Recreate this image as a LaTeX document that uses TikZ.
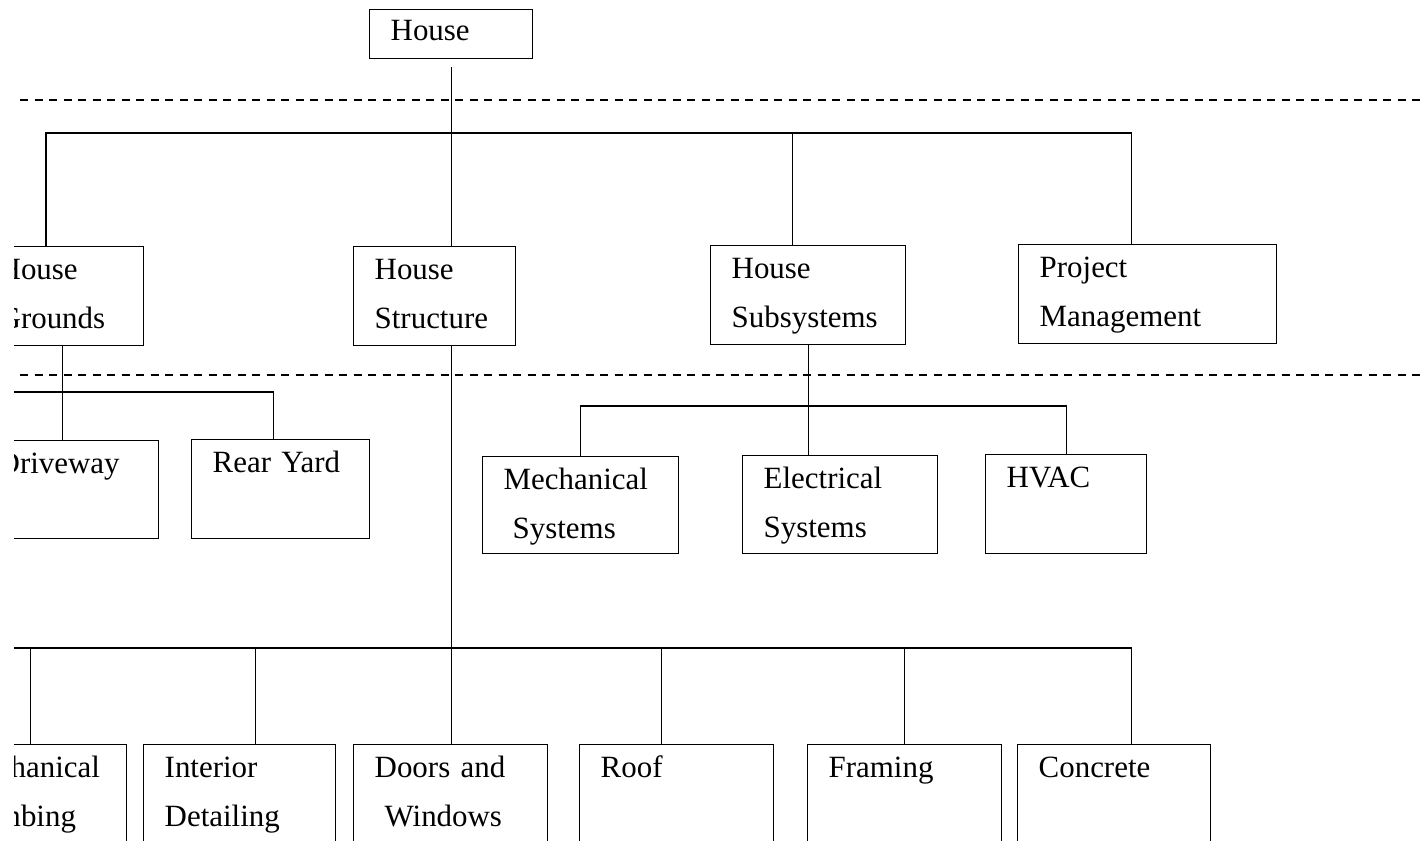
\documentclass[tikz,border=0pt]{standalone}
\usepackage{fontspec}
\setmainfont{Liberation Serif}

\newlength\px
\setlength\px{0.02cm}

\tikzset{
    box/.style 2 args={draw, rectangle, anchor=north west, align=left,
        inner xsep=21\px, inner ysep=0pt, text height=33\px,
        text width=#1\px, text depth=#2\px},
    sep/.style={dashed, dash pattern=on 8\px off 6.5\px},
}

\begin{document}
\begin{tikzpicture}[x=0.02cm, y=-0.02cm, line width=0.8pt,
        font=\fontsize{17.6}{27.5}\selectfont]
        \useasboundingbox (0,0) rectangle (1420,841);
        \clip (14,0) rectangle (1420,841);

        % Define nodes
        \node (house) [box={121}{18}, text height=31\px] at (369,9) {House};

        \node (grounds) [box={124}{66}] at (-23,246) {House\\Grounds};
        \node (structure) [box={120}{66}] at (353,246) {House\\Structure};
        \node (subsystems) [box={153}{66}] at (710,245) {House\\Subsystems};
        \node (project) [box={216}{66}] at (1018,244) {Project\\Management};

        \node (driveway) [box={140}{65}] at (-24,440) {Driveway};
        \node (rearyard) [box={136}{66}] at (191,439) {Rear Yard};

        \node (mechsys) [box={154}{64}] at (482,456) {Mechanical\\\hspace*{9\px}Systems};
        \node (elecsys) [box={153}{65}] at (742,455) {Electrical\\Systems};
        \node (hvac) [box={119}{66}] at (985,454) {HVAC};

        \node (mechplumb) [box={150}{67}] at (-66,744) {Mechanical\\Plumbing};
        \node (interior) [box={150}{67}] at (143,744) {Interior\\Detailing};
        \node (doors) [box={152}{67}] at (353,744) {Doors and\\\hspace*{10\px}Windows};
        \node (roof) [box={152}{67}] at (579,744) {Roof};
        \node (framing) [box={152}{67}] at (807,744) {Framing};
        \node (concrete) [box={151}{67}] at (1017,744) {Concrete};

        % Level separators
        \draw[sep] (20,100) -- (1420,100);
        \draw[sep] (20,375) -- (1420,375);

        % Bars the children hang from
        \coordinate (b-top) at (46,133);
        \coordinate (b-grounds) at (0,392);
        \coordinate (b-subsys) at (808,406);
        \coordinate (b-struct) at (0,648);

        % Draw connectors
        \draw ([yshift=-8\px]house.south) -- (house.south |- structure.north);
        \draw (b-top |- grounds.north) -- (b-top) -| ([xshift=-16\px]project.north);
        \draw ([xshift=-16\px]subsystems.north) -- ([xshift=-16\px]subsystems.north |- b-top);

        \draw ([xshift=2\px]grounds.south) -- ([xshift=2\px]grounds.south |- driveway.north);
        \draw ([xshift=-7\px]rearyard.north) |- (b-grounds);

        \draw (mechsys.north) |- (b-subsys) -| (hvac.north);
        \draw (subsystems.south) -- (subsystems.south |- elecsys.north);

        \draw (house.south |- structure.south) -- (house.south |- b-struct);
        \foreach \n/\dx in {mechplumb/0, interior/16, doors/1, roof/-15, framing/0, concrete/17}
            \draw ([xshift=\dx\px]\n.north) |- (b-struct);
    \end{tikzpicture}
\end{document}
